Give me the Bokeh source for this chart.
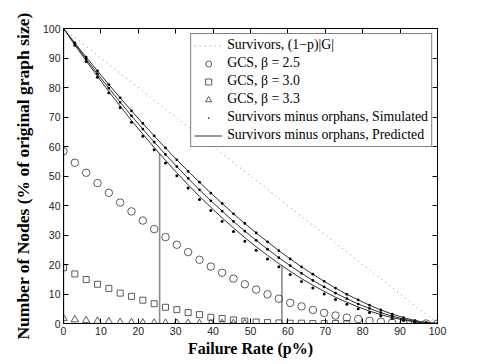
from bokeh.plotting import figure
from bokeh.models import (LinearAxis, Range1d, Legend, LegendItem, FixedTicker,
                          CustomLabelingPolicy)
from bokeh.embed import file_html
from bokeh.resources import INLINE

# ---------------- data ----------------
fail_rate = [0, 3.03, 6.06, 9.09, 12.12, 15.15, 18.18, 21.21, 24.24, 27.27,
             30.30, 33.33, 36.36, 39.39, 42.42, 45.45, 48.48, 51.52, 54.55, 57.58,
             60.61, 63.64, 66.67, 69.70, 72.73, 75.76, 78.79, 81.82, 84.85, 87.88,
             90.91, 93.94, 96.97, 100]

survivors_x = [0, 100]
survivors_y = [100, 0]

gcs_25 = [58.4, 54.5, 51.1, 47.6, 44.3, 41.0, 38.0, 34.9, 32.0, 29.3,
          26.7, 24.2, 21.6, 19.3, 17.2, 15.2, 13.3, 11.5, 9.9, 8.4,
          7.0, 5.8, 4.6, 3.6, 2.7, 2.0, 1.5, 0.9, 0.6, 0.3,
          0.1, 0.0, 0.0, 0.0]

gcs_30 = [18.9, 16.8, 14.9, 13.3, 11.9, 10.3, 9.2, 7.9, 6.7, 5.5,
          4.7, 3.7, 3.0, 2.1, 1.7, 1.2, 0.8, 0.5, 0.3, 0.2,
          0.1, 0.1, 0.0, 0.0, 0.0, 0.0]

gcs_33 = [1.7, 1.3, 1.0, 0.8, 0.6, 0.4, 0.3, 0.2, 0.15, 0.1,
          0.1, 0.05, 0.0, 0.0, 0.0, 0.0, 0.0]

pred_top = [100, 95.1, 90.3, 85.6, 81.0, 76.5, 72.1, 67.8, 63.6, 59.5,
            55.5, 51.6, 47.9, 44.2, 40.7, 37.2, 33.9, 30.7, 27.7, 24.7,
            21.9, 19.2, 16.7, 14.3, 12.0, 9.9, 8.0, 6.2, 4.6, 3.2,
            2.0, 1.0, 0.3, 0.0]
pred_mid = [100, 94.8, 89.6, 84.6, 79.8, 75.0, 70.4, 65.9, 61.5, 57.3,
            53.2, 49.2, 45.3, 41.6, 38.1, 34.6, 31.3, 28.2, 25.2, 22.3,
            19.6, 17.0, 14.6, 12.4, 10.3, 8.4, 6.6, 5.1, 3.7, 2.5,
            1.5, 0.7, 0.2, 0.0]
pred_bot = [100, 94.4, 89.0, 83.8, 78.6, 73.7, 68.8, 64.2, 59.7, 55.3,
            51.1, 47.0, 43.1, 39.4, 35.8, 32.4, 29.1, 26.0, 23.1, 20.3,
            17.7, 15.2, 13.0, 10.9, 8.9, 7.2, 5.6, 4.2, 3.0, 2.0,
            1.2, 0.5, 0.2, 0.0]

sim_top = [100, 95.1, 90.3, 85.6, 81.0, 76.5, 72.1, 67.8, 63.6, 59.5,
           55.5, 51.6, 47.9, 44.2, 40.7, 37.2, 33.9, 30.7, 27.7, 24.7,
           21.9, 19.2, 16.7, 14.3, 12.0, 9.9, 8.0, 6.2, 4.6, 3.2,
           2.0, 1.0, 0.3, 0.0]
sim_mid = [100, 94.8, 89.6, 84.6, 79.8, 75.0, 70.4, 65.9, 61.5, 57.3,
           53.2, 49.2, 45.3, 41.6, 38.1, 34.6, 31.3, 28.2, 25.2, 22.3,
           19.6, 17.0, 14.6, 12.4, 10.3, 8.4, 6.6, 5.1, 3.7, 2.5,
           1.5, 0.7, 0.2, 0.0]
sim_bot = [100, 94.3, 88.8, 83.5, 78.2, 73.2, 68.2, 63.5, 58.9, 54.4,
           50.1, 45.9, 42.0, 38.3, 34.7, 31.2, 27.9, 24.8, 21.9, 19.2,
           16.6, 14.2, 12.0, 10.0, 8.1, 6.5, 5.0, 3.7, 2.6, 1.7,
           1.0, 0.4, 0.1, 0.0]

threshold_x = [0, 25.7, 58.4]
threshold_top = [100, 57.6, 19.8]

ticks = [0, 10, 20, 30, 40, 50, 60, 70, 80, 90, 100]

# ---------------- figure ----------------
p = figure(frame_width=374, frame_height=295,
           x_range=Range1d(0, 100), y_range=Range1d(0, 100),
           output_backend="svg", toolbar_location=None,
           min_border_left=63, min_border_top=28, min_border_right=40,
           min_border_bottom=5, background_fill_color="white",
           border_fill_color="white")
p.xgrid.visible = False
p.ygrid.visible = False
p.outline_line_color = "black"
p.outline_line_width = 1

tick_font = "Liberation Sans"
label_font = "Liberation Serif"

for ax in (p.xaxis[0], p.yaxis[0]):
    ax.ticker = FixedTicker(ticks=ticks)
    ax.major_tick_in = 5
    ax.major_tick_out = 0
    ax.minor_tick_in = 0
    ax.minor_tick_out = 0
    ax.axis_line_color = "black"
    ax.axis_line_width = 1
    ax.major_tick_line_color = "black"
    ax.major_label_text_font = tick_font
    ax.major_label_text_font_size = "10.5px"
    ax.major_label_text_color = "#222222"
    ax.axis_label_text_font = label_font
    ax.axis_label_text_font_style = "bold"
    ax.axis_label_text_color = "black"

p.xaxis[0].axis_label = "Failure Rate (p%)"
p.xaxis[0].axis_label_text_font_size = "16px"
p.xaxis[0].major_label_standoff = 3
p.xaxis[0].axis_label_standoff = 2
p.yaxis[0].axis_label = "Number of Nodes (% of original graph size)"
p.yaxis[0].axis_label_text_font_size = "17.5px"
p.yaxis[0].major_label_standoff = 3
p.yaxis[0].axis_label_standoff = 7

no_labels = CustomLabelingPolicy(code="return new Set()")
for side in ("above", "right"):
    ax = LinearAxis(ticker=FixedTicker(ticks=ticks))
    ax.major_tick_in = 5
    ax.major_tick_out = 0
    ax.minor_tick_in = 0
    ax.minor_tick_out = 0
    ax.major_label_policy = no_labels
    ax.major_label_standoff = 0
    ax.axis_line_color = "black"
    ax.major_tick_line_color = "black"
    p.add_layout(ax, side)

# threshold vertical lines
p.segment(x0=threshold_x, y0=[0, 0, 0], x1=threshold_x, y1=threshold_top,
          line_color="#8c8c8c", line_width=1.6)

# survivors dotted line
r_surv = p.line(survivors_x, survivors_y, line_color="#8a8a8a",
                line_dash="1 4", line_width=1)

# predicted curves
r_pred = p.line(fail_rate, pred_top, line_color="#303030", line_width=1)
p.line(fail_rate, pred_mid, line_color="#303030", line_width=1)
p.line(fail_rate, pred_bot, line_color="#303030", line_width=1)

# simulated dots
r_sim = p.scatter(fail_rate, sim_top, marker="dot", size=11,
                  fill_color="black", line_color="black", line_width=1)
p.scatter(fail_rate, sim_mid, marker="dot", size=11,
          fill_color="black", line_color="black", line_width=1)
p.scatter(fail_rate, sim_bot, marker="dot", size=12,
          fill_color="black", line_color="black", line_width=1.3)

# GCS markers
r_c = p.scatter(fail_rate, gcs_25, marker="circle", size=7.5,
                fill_color=None, line_color="#333333", line_width=0.8)
r_s = p.scatter(fail_rate[:len(gcs_30)], gcs_30, marker="square", size=6,
                fill_color=None, line_color="#333333", line_width=0.8)
r_t = p.scatter(fail_rate[:len(gcs_33)], gcs_33, marker="triangle", size=7.5,
                fill_color=None, line_color="#333333", line_width=0.8)

legend = Legend(items=[
    LegendItem(label="Survivors, (1\u2212p)|G|", renderers=[r_surv]),
    LegendItem(label="GCS, \u03b2 = 2.5", renderers=[r_c]),
    LegendItem(label="GCS, \u03b2 = 3.0", renderers=[r_s]),
    LegendItem(label="GCS, \u03b2 = 3.3", renderers=[r_t]),
    LegendItem(label="Survivors minus orphans, Simulated", renderers=[r_sim]),
    LegendItem(label="Survivors minus orphans, Predicted", renderers=[r_pred]),
], location="top_right")
legend.margin = 5
legend.padding = 3
legend.spacing = 2
legend.label_height = 15
legend.glyph_height = 15
legend.glyph_width = 28
legend.label_standoff = 5
legend.label_text_font = label_font
legend.label_text_font_size = "13.8px"
legend.label_text_color = "black"
legend.border_line_color = "black"
legend.border_line_width = 1
legend.background_fill_color = "white"
legend.background_fill_alpha = 1
p.add_layout(legend)

open("out.html", "w").write(file_html(p, INLINE))
